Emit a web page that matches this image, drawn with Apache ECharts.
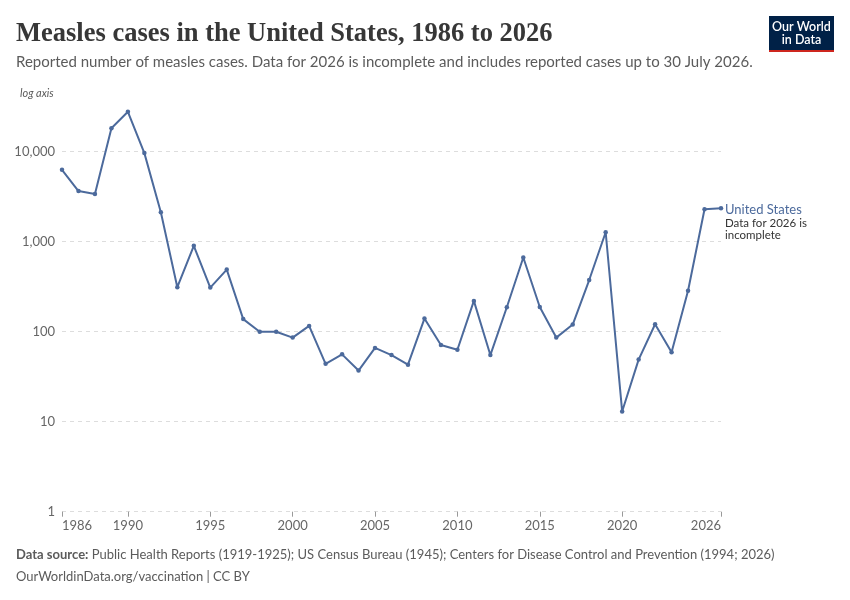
<!DOCTYPE html>
<html lang="en">
<head>
  <meta charset="UTF-8">
  <title>Measles cases in the United States, 1986 to 2026</title>
  <script src="https://cdn.jsdelivr.net/npm/echarts@6/dist/echarts.min.js"></script>
  <style>
    html, body { margin: 0; padding: 0; background: #fff; }
    #chart { width: 850px; height: 600px; }
  </style>
</head>
<body>
  <div id="chart"></div>
  <script>
    // years and reported cases
    const years = [1986, 1987, 1988, 1989, 1990, 1991, 1992, 1993, 1994, 1995,
      1996, 1997, 1998, 1999, 2000, 2001, 2002, 2003, 2004, 2005,
      2006, 2007, 2008, 2009, 2010, 2011, 2012, 2013, 2014, 2015,
      2016, 2017, 2018, 2019, 2020, 2021, 2022, 2023, 2024, 2025, 2026];
    const cases = [6282, 3655, 3396, 18193, 27786, 9643, 2126, 312, 900, 309,
      490, 138, 100, 100, 86, 116, 44, 56, 37, 66,
      55, 43, 140, 71, 63, 220, 55, 187, 667, 188,
      86, 120, 375, 1274, 13, 49, 121, 59, 285, 2290, 2360];
    // tick labels
    const yearTicks = [1986, 1990, 1995, 2000, 2005, 2010, 2015, 2020, 2026];

    const lineColor = '#4c6a9c';
    const font = 'Lato, "Noto Sans", sans-serif';

    const chart = echarts.init(document.getElementById('chart'), null, { renderer: 'canvas' });
    chart.setOption({
      animation: false,
      textStyle: { fontFamily: font },
      title: [
        {
          text: 'Measles cases in the United States, 1986 to 2026',
          left: 16, top: 21, padding: 0,
          textStyle: { fontFamily: '"Liberation Serif", "DejaVu Serif", serif', fontSize: 26.5, fontWeight: 'bold', color: '#373737' }
        },
        {
          text: 'Reported number of measles cases. Data for 2026 is incomplete and includes reported cases up to 30 July 2026.',
          left: 16, top: 55, padding: 0,
          textStyle: { fontFamily: font, fontSize: 15, fontWeight: 'normal', color: '#5b5b5b' }
        },
        {
          text: 'log axis',
          left: 20, top: 88, padding: 0,
          textStyle: { fontFamily: font, fontSize: 11, fontStyle: 'italic', fontWeight: 'normal', color: '#5b5b5b' }
        }
      ],
      graphic: [
        // logo
        { type: 'rect', left: 769, top: 16, shape: { width: 65, height: 34 }, style: { fill: '#002147' } },
        { type: 'rect', left: 769, top: 50, shape: { width: 65, height: 2 }, style: { fill: '#ce261e' } },
        {
          type: 'text', x: 801.5, y: 20,
          style: { text: 'Our World\nin Data', fill: '#fff', font: '600 12.5px Lato', lineHeight: 13, align: 'center' }
        },
        // footer
        {
          type: 'text', left: 16, top: 548,
          style: {
            text: '{b|Data source:} Public Health Reports (1919-1925); US Census Bureau (1945); Centers for Disease Control and Prevention (1994; 2026)',
            rich: {
              b: { fontFamily: font, fontSize: 13, fontWeight: 'bold', fill: '#5b5b5b' }
            },
            font: '13px Lato', fill: '#5b5b5b'
          }
        },
        {
          type: 'text', left: 16, top: 570,
          style: { text: 'OurWorldinData.org/vaccination | CC BY', font: '13px Lato', fill: '#5b5b5b' }
        }
      ],
      grid: { left: 62, right: 129, top: 106.7, bottom: 88.3 },
      xAxis: {
        type: 'value',
        min: 1986, max: 2026,
        axisLine: { show: false },
        splitLine: { show: false },
        axisTick: { show: true, length: 5, customValues: yearTicks, lineStyle: { color: '#999' } },
        axisLabel: {
          customValues: yearTicks,
          margin: 8,
          fontSize: 13, color: '#666',
          alignMinLabel: 'left', alignMaxLabel: 'right',
          formatter: v => String(v)
        }
      },
      yAxis: {
        type: 'log',
        logBase: 10,
        min: 1, max: 31623,
        axisLine: { show: false },
        axisTick: { show: false },
        splitLine: { show: true, showMaxLine: false, lineStyle: { color: '#ddd', type: [4, 4] } },
        axisLabel: {
          showMaxLabel: false,
          margin: 7,
          fontSize: 13, color: '#666',
          formatter: v => Math.round(v).toLocaleString('en-US')
        }
      },
      series: [{
        name: 'United States',
        type: 'line',
        data: years.map((y, i) => [y, cases[i]]),
        symbol: 'circle',
        symbolSize: 4.5,
        showAllSymbol: true,
        lineStyle: { color: lineColor, width: 2 },
        itemStyle: { color: lineColor },
        endLabel: {
          show: true,
          distance: 4,
          offset: [0, 14],
          formatter: '{a|United States}\n{b|Data for 2026 is}\n{b|incomplete}',
          rich: {
            a: { fontFamily: font, fontSize: 13, color: lineColor, lineHeight: 14 },
            b: { fontFamily: font, fontSize: 11.5, color: '#333', lineHeight: 12.5 }
          }
        }
      }]
    });
  </script>
</body>
</html>
